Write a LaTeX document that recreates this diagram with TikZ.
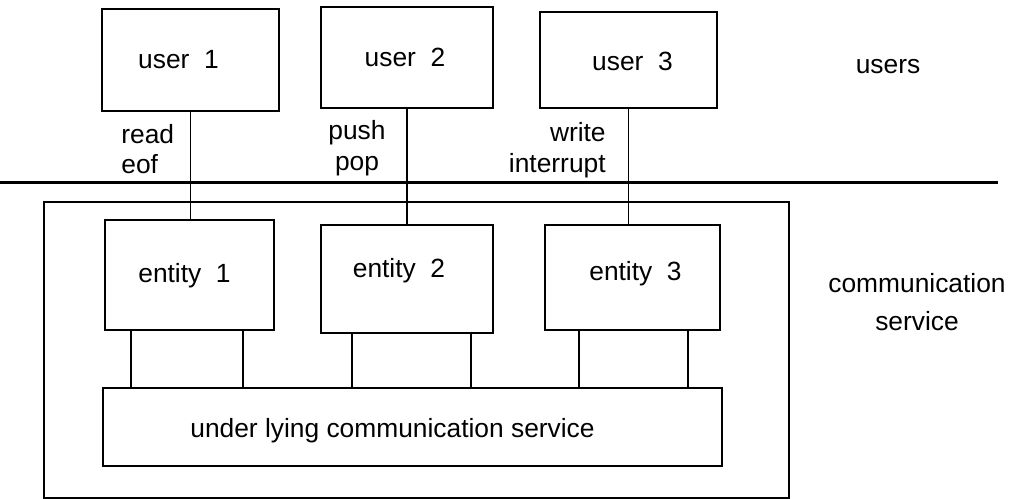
\documentclass[tikz,border=0pt]{standalone}
\usepackage{fontspec}
\setmainfont{Liberation Sans}
\tikzset{
  box/.style={
    draw,
    line width=1.3pt,
    inner sep=0pt
  },
  link/.style={line width=0.6pt}
}

\begin{document}
\begin{tikzpicture}[
      x=0.02cm, y=-0.02cm,
      every node/.style={
        font=\fontsize{15}{17.5}\selectfont,
        inner sep=0pt
      }
      ]
      \useasboundingbox (0,0) rectangle (1010,499);

      % frame round the whole service
      \node[box, line width=1.1pt, minimum width=14.9cm, minimum height=5.92cm] (service) at (416.5,350) {};

      % users above, service below
      \draw[line width=1.5pt] (0,182.5) -- (998,182.5);

      % boxes; the last two values nudge the text inside
      \foreach \i/\x/\y/\w/\h/\dx/\dy in {1/190.5/60/3.54/2.04/-12/0, 2/407/57.5/3.44/2.02/-2/0, 3/628.5/60/3.54/1.92/4/-1}{
        \node[box, minimum width=\w cm, minimum height=\h cm,
          label={[xshift=\dx*0.02cm, yshift=\dy*0.02cm]center:user\ \ \i}] (user\i) at (\x,\y) {};
      }
      \foreach \i/\x/\y/\w/\h/\dx/\dy in {1/189.5/275/3.38/2.2/-5/-1, 2/407/279/3.44/2.16/-8/8, 3/632.5/277.5/3.5/2.1/3/4}{
        \node[box, minimum width=\w cm, minimum height=\h cm,
          label={[xshift=\dx*0.02cm, yshift=\dy*0.02cm]center:entity\ \ \i}] (entity\i) at (\x,\y) {};
      }
      \node[box, minimum width=12.38cm, minimum height=1.56cm,
        label={[xshift=-0.4cm, yshift=-0.08cm]center:under lying communication service}] (under) at (412.5,427) {};

      \foreach \i in {1,2,3}{
        \draw[link] (user\i.south) -- (user\i.south |- entity\i.north);
      }
      \foreach \e/\x in {1/131, 1/243, 2/352, 2/471, 3/579, 3/688}{
        \draw[link] (\x,0 |- entity\e.south) -- (\x,0 |- under.north);
      }

      % service primitives
      \node[align=left, anchor=west] (ops1) at (121,149) {read\\eof};
      \node[align=center] (ops2) at (357,148) {push\\pop};
      \node[align=right, anchor=east] (ops3) at (606,150) {write\\interrupt};

      \node (userstext) at (888,67) {users};
      \node[align=center, font=\fontsize{15}{21.5}\selectfont] (servicetext) at (917,302) {communication\\service};
\end{tikzpicture}
\end{document}
